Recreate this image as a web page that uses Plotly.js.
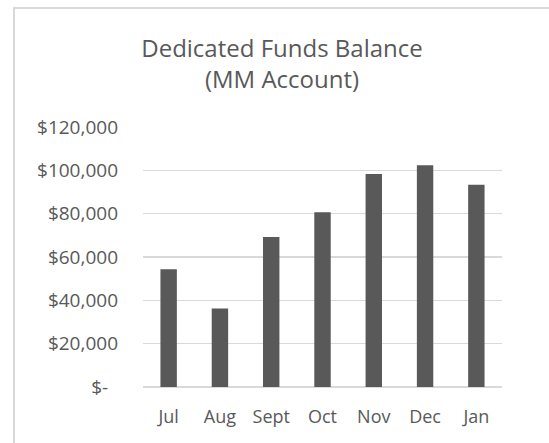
<!DOCTYPE html>
<html>
<head>
<meta charset="utf-8">
<script src="https://cdn.plot.ly/plotly-3.0.1.min.js"></script>
<style>
  body { margin: 0; background: #fff; }
  #plot { width: 549px; height: 443px; }
  #frame {
    position: absolute; left: 13px; top: 7px; width: 540px; height: 440px;
    border-left: 2px solid #d9d9d9; border-top: 2px solid #d9d9d9;
    pointer-events: none;
  }
</style>
</head>
<body>
<div id="plot"></div>
<div id="frame"></div>
<script>
// months and balances
var months = ["Jul", "Aug", "Sept", "Oct", "Nov", "Dec", "Jan"];
var balance = [54400, 36200, 69200, 80600, 98300, 102400, 93300];

var tickVals = [0, 20000, 40000, 60000, 80000, 100000, 120000];
var tickText = ["$-\u00a0\u00a0", "$20,000", "$40,000", "$60,000", "$80,000", "$100,000", "$120,000"];

var trace = {
  x: months,
  y: balance,
  type: "bar",
  marker: { color: "#595959" },
  hoverinfo: "x+y"
};

var layout = {
  width: 549,
  height: 443,
  margin: { l: 143, r: 47, t: 127, b: 56 },
  paper_bgcolor: "#fff",
  plot_bgcolor: "#fff",
  font: { family: "Open Sans, sans-serif", size: 18, color: "#595959" },
  bargap: 0.68,
  showlegend: false,
  title: {
    text: "Dedicated Funds Balance<br>(MM Account)",
    font: { size: 24, color: "#595959" },
    xref: "container",
    x: 282 / 549,
    xanchor: "center",
    yref: "container",
    y: 1 - 57 / 443,
    yanchor: "top"
  },
  xaxis: {
    showgrid: false,
    showline: false,
    ticks: "",
    ticklabelstandoff: 17,
    tickfont: { size: 18, color: "#595959" }
  },
  yaxis: {
    range: [0, 120000],
    tickvals: tickVals,
    ticktext: tickText,
    showgrid: true,
    gridcolor: "#d9d9d9",
    gridwidth: 1.5,
    zeroline: true,
    zerolinecolor: "#d9d9d9",
    zerolinewidth: 1.5,
    showline: false,
    ticks: "",
    ticklabelstandoff: 24,
    tickfont: { size: 19, color: "#595959" }
  }
};

Plotly.newPlot("plot", [trace], layout, { displayModeBar: false, staticPlot: true });
</script>
</body>
</html>
